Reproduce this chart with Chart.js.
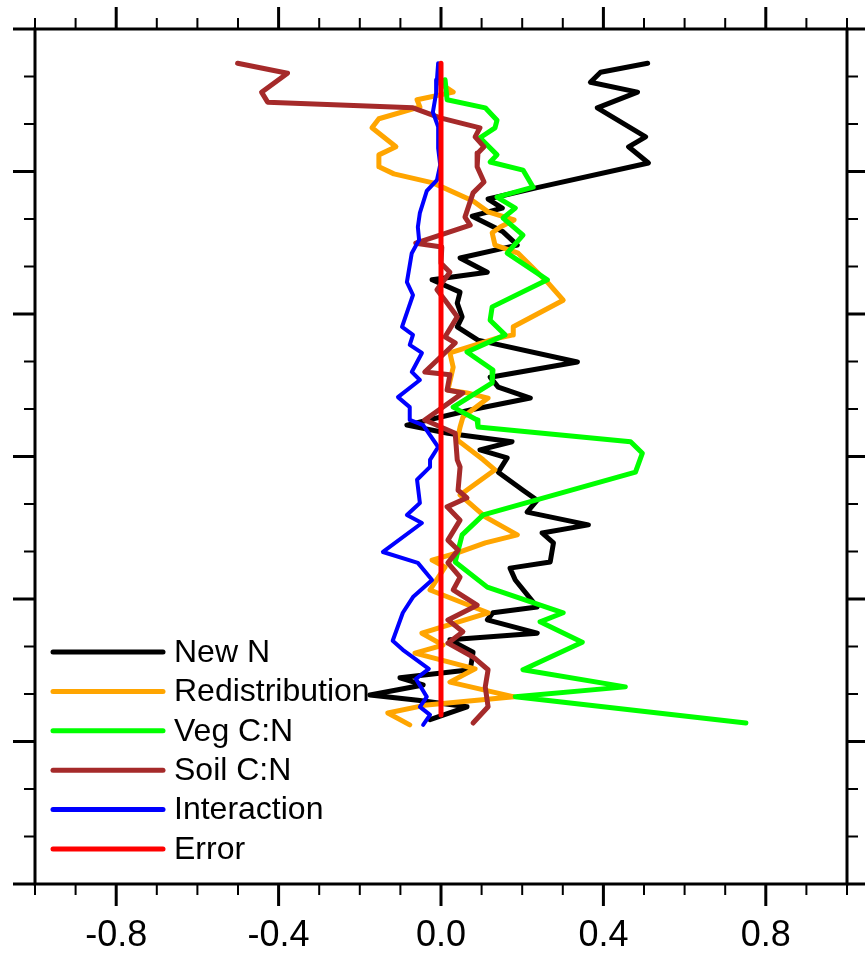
<!DOCTYPE html>
<html><head><meta charset="utf-8">
<script src="https://cdn.jsdelivr.net/npm/chart.js@4"></script>
<style>html,body{margin:0;padding:0;background:#fff;}canvas{display:block;}</style>
</head><body>
<canvas id="c" width="865" height="963"></canvas>
<script>
// ---- data (x = value, y = latitude) ----
const seriesLabels = ["New N", "Redistribution", "Veg C:N", "Soil C:N", "Interaction", "Error"];
const seriesColors = ["#000000", "#FFA500", "#00FF00", "#A52A2A", "#0000FF", "#FF0000"];
const xTickValues = [-0.8, -0.4, 0.0, 0.4, 0.8];
const xMinorTicks = [-1.0, -0.9, -0.7, -0.6, -0.5, -0.3, -0.2, -0.1, 0.1, 0.2, 0.3, 0.5, 0.6, 0.7, 0.9, 1.0];
const yMajorTicks = [-90, -60, -30, 0, 30, 60, 90];
const yMinorTicks = [-80, -70, -50, -40, -20, -10, 10, 20, 40, 50, 70, 80];

const newNLat = [82.8,80.9,78.8,76.7,73.4,67.3,65.2,61.8,56.6,54.2,52.3,50.6,47.3,44.5,41.8,38.8,37.2,34.6,32.3,29.4,27.3,24.5,19.9,16.7,14.6,12.3,9.8,6.6,4.9,3.1,1.4,-0.3,-3.3,-7.1,-9.2,-11.7,-14.4,-16.1,-18.2,-22.2,-23.5,-26.0,-31.7,-32.9,-34.4,-37.2,-38.6,-41.2,-44.9,-46.6,-48.1,-50.2,-51.3,-52.7,-55.4];
const newN = [0.509,0.393,0.368,0.484,0.385,0.504,0.462,0.511,0.237,0.116,0.151,0.077,0.153,0.188,0.047,0.114,-0.022,0.047,0.040,0.052,0.040,0.091,0.336,0.121,0.141,0.220,0.072,-0.084,0.017,0.175,0.096,0.163,0.141,0.202,0.237,0.212,0.363,0.249,0.277,0.269,0.170,0.183,0.237,0.128,0.114,0.237,0.022,0.079,0.072,-0.101,-0.044,-0.175,-0.057,0.064,-0.027];

const redistLat = [78.8,76.7,75.1,73.6,71.1,69.2,65.2,63.5,61.0,59.5,57.6,53.8,51.5,49.8,48.3,47.1,44.5,42.8,36.7,32.9,27.3,25.6,24.9,21.8,18.8,14.0,13.4,12.3,8.3,6.2,3.5,-0.7,-2.8,-8.1,-12.7,-16.5,-18.2,-20.3,-21.8,-23.3,-28.1,-32.9,-37.2,-39.7,-41.4,-44.7,-47.5,-50.6,-52.3,-54.0,-56.5];
const redist = [-0.007,0.030,-0.059,-0.052,-0.153,-0.170,-0.111,-0.153,-0.153,-0.116,-0.020,0.079,0.116,0.180,0.146,0.126,0.133,0.190,0.262,0.301,0.178,0.178,0.138,0.022,0.030,0.017,0.064,0.116,0.054,0.047,0.040,0.104,0.133,0.047,0.109,0.188,0.109,0.040,-0.022,0.010,-0.027,0.116,-0.047,0.005,-0.064,0.084,0.022,0.180,-0.035,-0.131,-0.077];

const vegLat = [79.3,75.1,73.4,70.8,69.2,67.1,63.5,62.0,60.3,56.7,54.6,52.3,50.2,46.6,42.8,37.2,31.5,28.7,25.6,22.0,18.2,15.5,10.4,7.7,6.2,3.1,0.7,-3.3,-12.3,-16.5,-22.2,-27.5,-32.9,-34.8,-39.1,-44.9,-48.5,-50.6,-56.1];
const vegCN = [0.010,0.015,0.109,0.138,0.133,0.096,0.138,0.121,0.202,0.227,0.138,0.183,0.153,0.202,0.163,0.262,0.126,0.121,0.158,0.064,0.128,0.126,0.030,0.089,0.091,0.467,0.496,0.479,0.104,0.052,0.035,0.114,0.301,0.244,0.348,0.202,0.454,0.183,0.751];

const soilLat = [82.8,80.7,76.7,74.6,73.4,71.3,69.2,67.3,65.2,63.9,61.0,57.8,55.5,50.4,48.7,44.9,44.1,40.7,38.8,35.1,32.9,29.4,25.2,23.9,17.8,17.2,14.0,13.4,7.7,4.9,-0.7,-2.2,-7.1,-8.7,-10.6,-13.4,-17.6,-19.7,-22.4,-25.4,-28.1,-31.3,-34.4,-36.9,-39.3,-42.2,-44.9,-48.5,-52.7,-56.1];
const soilCN = [-0.501,-0.378,-0.442,-0.427,-0.069,-0.002,0.096,0.084,0.106,0.091,0.089,0.106,0.079,0.059,0.072,-0.062,0.002,0.000,0.022,-0.010,0.010,0.040,0.010,0.035,-0.040,0.022,0.015,0.054,-0.040,0.035,0.040,0.047,0.042,0.064,0.015,0.047,0.017,0.042,0.017,0.047,0.030,0.089,0.017,0.054,0.017,0.079,0.116,0.109,0.116,0.079];

const interLat = [82.8,79.3,76.5,72.5,69.4,64.9,61.4,58.2,55.9,51.3,48.3,45.6,42.8,36.7,34.0,27.3,25.6,23.5,21.8,17.8,16.1,12.5,10.4,7.7,6.6,2.0,-0.7,-2.2,-4.9,-9.8,-12.3,-14.0,-20.1,-22.4,-26.0,-29.6,-32.9,-38.8,-40.7,-44.7,-46.8,-50.6,-52.7,-54.4,-56.5];
const interaction = [-0.007,-0.010,-0.012,-0.020,-0.007,-0.007,-0.002,-0.010,-0.035,-0.052,-0.057,-0.054,-0.072,-0.084,-0.069,-0.096,-0.069,-0.077,-0.047,-0.072,-0.052,-0.106,-0.077,-0.077,-0.044,-0.007,-0.027,-0.027,-0.059,-0.052,-0.084,-0.047,-0.143,-0.057,-0.022,-0.069,-0.094,-0.119,-0.094,-0.030,-0.062,-0.035,-0.052,-0.027,-0.044];

const errorLat = [82.8, -54.4];
const errorVal = [0.0, 0.0];

// ---- build datasets ----
const seriesX = [newN, redist, vegCN, soilCN, interaction, errorVal];
const seriesY = [newNLat, redistLat, vegLat, soilLat, interLat, errorLat];
const datasets = seriesLabels.map((lab, k) => ({
  label: lab,
  data: seriesY[k].map((lat, i) => ({x: seriesX[k][i], y: lat})),
  borderColor: seriesColors[k],
  backgroundColor: seriesColors[k],
  borderWidth: k === 4 ? 4 : 5,
  pointRadius: 0,
  showLine: true,
  fill: false,
  tension: 0,
  borderJoinStyle: 'round',
  borderCapStyle: 'round',
  order: seriesLabels.length - k
}));

const frameTicks = {
  id: 'frameTicks',
  afterDraw(chart) {
    const {ctx, chartArea: a, scales: {x, y}} = chart;
    ctx.save();
    ctx.strokeStyle = '#000';
    ctx.lineCap = 'butt';
    const xt = (vals, len, w) => {
      ctx.lineWidth = w; ctx.beginPath();
      vals.forEach(v => { const p = x.getPixelForValue(v);
        ctx.moveTo(p, a.top); ctx.lineTo(p, a.top - len);
        ctx.moveTo(p, a.bottom); ctx.lineTo(p, a.bottom + len); });
      ctx.stroke();
    };
    const yt = (vals, len, w) => {
      ctx.lineWidth = w; ctx.beginPath();
      vals.forEach(v => { const p = y.getPixelForValue(v);
        ctx.moveTo(a.left, p); ctx.lineTo(a.left - len, p);
        ctx.moveTo(a.right, p); ctx.lineTo(a.right + len, p); });
      ctx.stroke();
    };
    xt(xMinorTicks, 11, 2);
    xt(xTickValues, 22, 3);
    yt(yMinorTicks, 11, 2);
    yt(yMajorTicks, 22, 3);
    ctx.lineWidth = 3;
    ctx.strokeRect(a.left, a.top, a.right - a.left, a.bottom - a.top);
    // legend
    const ds = chart.data.datasets;
    ds.forEach((d, i) => {
      const yy = 652 + i * 39.4;
      ctx.strokeStyle = d.borderColor;
      ctx.lineWidth = 5; ctx.lineCap = 'round';
      ctx.beginPath(); ctx.moveTo(53, yy); ctx.lineTo(163, yy); ctx.stroke();
      ctx.fillStyle = '#000';
      ctx.font = '32px "Liberation Sans", Arial, sans-serif';
      ctx.textBaseline = 'middle';
      ctx.textAlign = 'left';
      ctx.fillText(d.label, 174, yy + 1);
    });
    ctx.restore();
  }
};

new Chart(document.getElementById('c'), {
  type: 'scatter',
  data: { datasets },
  options: {
    responsive: false,
    animation: false,
    devicePixelRatio: 1,
    layout: { padding: { left: 35, right: 18, top: 29, bottom: 0 } },
    plugins: { legend: { display: false }, tooltip: { enabled: false } },
    scales: {
      x: {
        type: 'linear', min: -1, max: 1, position: 'bottom',
        afterBuildTicks: s => { s.ticks = xTickValues.map(v => ({ value: v })); },
        afterFit: s => { s.height = 79; },
        grid: { display: false, drawTicks: false },
        border: { display: false },
        ticks: { padding: 30, color: '#000', autoSkip: false, maxRotation: 0,
          font: { family: '"Liberation Sans", Arial, sans-serif', size: 36 },
          callback: v => Number(v).toFixed(1) }
      },
      y: { type: 'linear', min: -90, max: 90, display: false }
    }
  },
  plugins: [frameTicks]
});
</script>
</body></html>
